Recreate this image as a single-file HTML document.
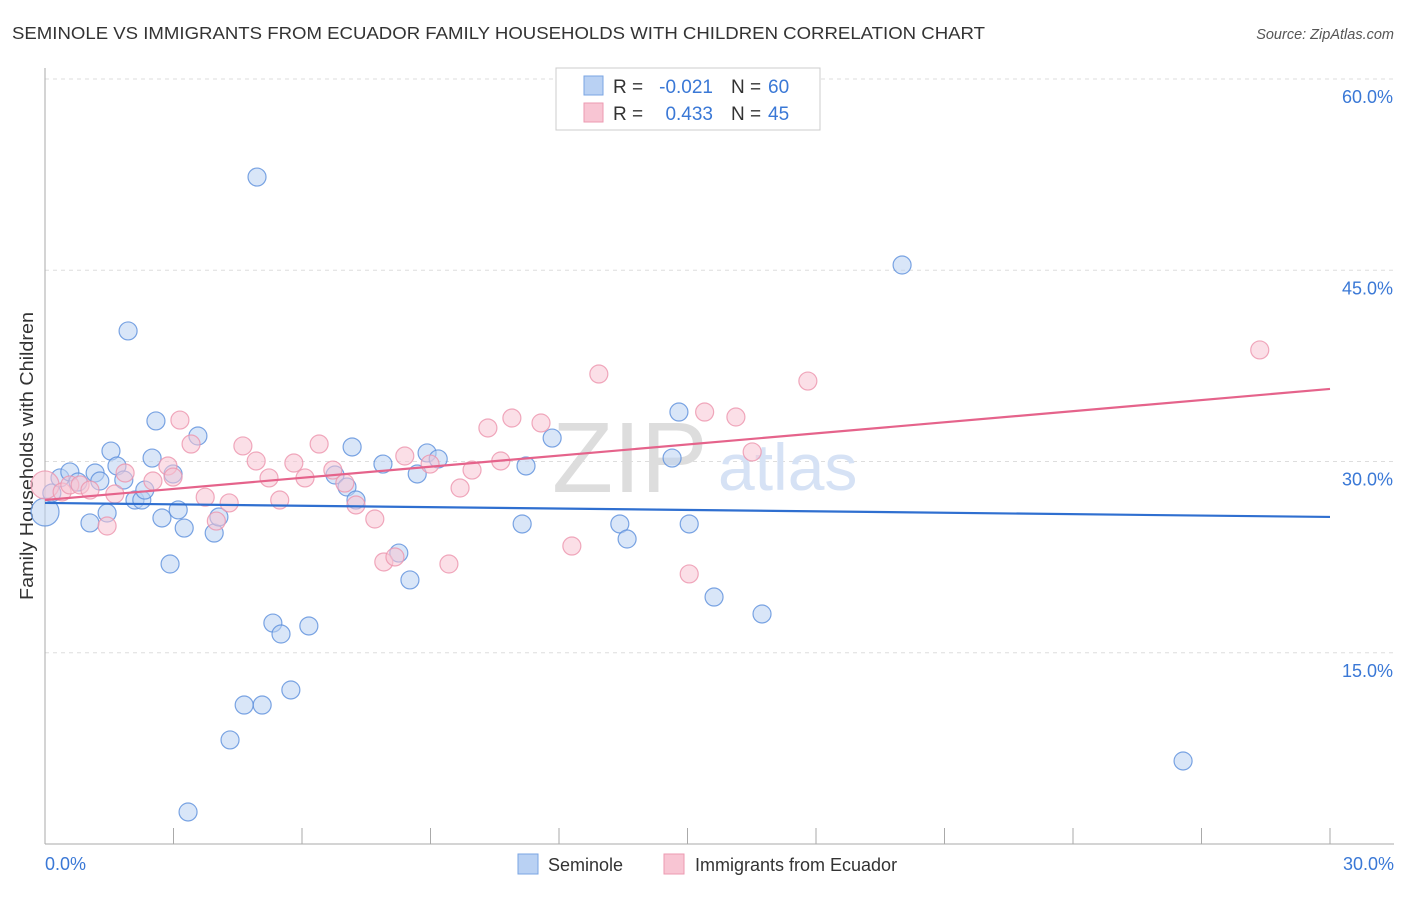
<!DOCTYPE html>
<html><head><meta charset="utf-8"><style>
body{margin:0;background:#fff;font-family:"Liberation Sans",sans-serif;}
svg text{font-family:"Liberation Sans",sans-serif;}
</style></head><body>
<svg id="chart" width="1406" height="892">
<text x="12" y="39" font-size="17.5" fill="#333" textLength="973" lengthAdjust="spacingAndGlyphs">SEMINOLE VS IMMIGRANTS FROM ECUADOR FAMILY HOUSEHOLDS WITH CHILDREN CORRELATION CHART</text>
<text x="1394" y="39" font-size="14.5" fill="#555" font-style="italic" text-anchor="end">Source: ZipAtlas.com</text>
<text x="33" y="456" font-size="18" fill="#333" text-anchor="middle" textLength="288" lengthAdjust="spacingAndGlyphs" transform="rotate(-90 33 456)">Family Households with Children</text>
<g id="grid"></g>
<text x="552" y="492" font-size="100" fill="#ddd" font-family="Liberation Serif">ZIP</text>
<text x="718" y="490" font-size="66" fill="#d6e2f5">atlas</text>
<g id="marks"></g>
<g>
<rect x="556" y="68" width="264" height="62" fill="#fff" stroke="#ccc"/>
<rect x="584" y="76" width="19" height="19" fill="#b9d1f3" stroke="#7aa5e3"/>
<rect x="584" y="103" width="19" height="19" fill="#f8c5d3" stroke="#ec9ab2"/>
<text x="613" y="93" font-size="19" fill="#333">R =</text>
<text x="713" y="93" font-size="19" fill="#3a78d6" text-anchor="end">-0.021</text>
<text x="731" y="93" font-size="19" fill="#333">N =</text>
<text x="768" y="93" font-size="19" fill="#3a78d6">60</text>
<text x="613" y="120" font-size="19" fill="#333">R =</text>
<text x="713" y="120" font-size="19" fill="#3a78d6" text-anchor="end">0.433</text>
<text x="731" y="120" font-size="19" fill="#333">N =</text>
<text x="768" y="120" font-size="19" fill="#3a78d6">45</text>
</g>
<g>
<rect x="518" y="854" width="20" height="20" fill="#b9d1f3" stroke="#7aa5e3"/>
<text x="548" y="871" font-size="18" fill="#333">Seminole</text>
<rect x="664" y="854" width="20" height="20" fill="#f8c5d3" stroke="#ec9ab2"/>
<text x="695" y="871" font-size="18" fill="#333">Immigrants from Ecuador</text>
</g>
</svg>
<script>
const yTicks=[15,30,45,60];
const yTickLabels=["15.0%","30.0%","45.0%","60.0%"];
const xTickLabels=["0.0%","30.0%"];
const blueX=[0,0.16,0.35,0.58,0.77,1.17,1.28,1.05,1.45,1.54,1.68,1.84,1.94,2.1,2.26,2.33,2.5,2.59,2.73,2.92,2.99,3.11,3.25,3.57,3.95,4.06,4.32,4.65,4.95,5.07,5.32,5.51,5.74,6.16,3.34,6.77,7.05,7.17,7.26,7.89,8.26,8.52,8.69,8.92,9.18,11.14,11.23,11.84,13.42,13.59,14.64,14.8,15.04,15.62,16.74,20.01,26.57];
const blueY=[26.04,27.53,28.71,29.18,28.39,29.1,28.47,25.18,25.96,30.82,29.65,28.55,40.24,26.98,26.98,27.76,30.27,33.18,25.57,21.96,29.02,26.2,24.78,32.0,24.39,25.65,8.16,10.9,52.31,10.9,17.33,16.47,12.08,17.1,2.51,28.94,28.0,31.14,26.98,29.8,22.82,20.71,29.02,30.67,30.2,25.1,29.65,31.84,25.1,23.92,30.27,33.88,25.1,19.37,18.04,45.41,6.51];
const pinkX=[0,0.4,0.58,0.82,1.05,1.45,1.63,1.87,2.52,2.87,2.99,3.15,3.41,3.74,4.0,4.3,4.62,4.93,5.23,5.48,5.81,6.07,6.4,6.72,7.0,7.26,7.7,7.91,8.17,8.4,8.99,9.43,9.69,9.97,10.34,10.64,10.9,11.58,12.3,12.93,15.4,15.04,16.13,16.51,17.81,28.36];
const pinkY=[28.16,27.61,28.16,28.16,27.76,24.94,27.45,29.1,28.47,29.65,28.78,33.25,31.37,27.2,25.33,26.75,31.22,30.04,28.71,26.98,29.88,28.71,31.37,29.33,28.31,26.59,25.49,22.12,22.51,30.43,29.8,21.96,27.92,29.33,32.63,30.04,33.41,33.02,23.37,36.86,33.88,21.18,33.49,30.75,36.31,38.75];
const trendX=[0,30];
const blueTrend=[26.75,25.65];
const pinkTrend=[26.98,35.69];
const NS="http://www.w3.org/2000/svg";
const sx=v=>45+v/30*1285;
const sy=v=>844-v*12.75;
function mk(t,a,p){const e=document.createElementNS(NS,t);for(const k in a)e.setAttribute(k,a[k]);p.appendChild(e);return e;}
const grid=document.getElementById('grid'),marks=document.getElementById('marks');
yTicks.forEach((t,i)=>{
 const l=mk('line',{x1:45,x2:1394,y1:sy(t),y2:sy(t),stroke:'#ddd','stroke-dasharray':'4,4'},grid);
 
 
 const tx=mk('text',{x:1393,y:sy(t)+24,'font-size':18,fill:'#3a78d6','text-anchor':'end'},grid);tx.textContent=yTickLabels[i];
 
 
});
mk('line',{x1:45,x2:45,y1:68,y2:844,stroke:'#aaa'},grid);
mk('line',{x1:45,x2:1394,y1:844,y2:844,stroke:'#aaa'},grid);
for(let i=0;i<=10;i++){const t=mk('line',{x1:sx(i*3),x2:sx(i*3),y1:828,y2:844,stroke:'#aaa'},grid);
 
 }
[[0,'start',45],[30,'end',1394]].forEach((d,i)=>{const t=mk('text',{x:d[2],y:870,'font-size':18,fill:'#3a78d6','text-anchor':d[1]},grid);t.textContent=xTickLabels[i];
 
 });
function pts(X,Y,fill,stroke,name){X.forEach((x,i)=>{const c=mk('circle',{cx:sx(x),cy:sy(Y[i]),r:(i==0?14:9),fill:fill,'fill-opacity':0.55,stroke:stroke,'stroke-width':1.2,'stroke-opacity':0.8},marks);
 
 });}
pts(blueX,blueY,'#b9d1f3','#5b8fdc','seminole-point');
pts(pinkX,pinkY,'#f8c5d3','#ec93ad','ecuador-point');
const bl=mk('line',{x1:sx(trendX[0]),x2:sx(trendX[1]),y1:sy(blueTrend[0]),y2:sy(blueTrend[1]),stroke:'#2f6fd0','stroke-width':2.2},marks);


const pl=mk('line',{x1:sx(trendX[0]),x2:sx(trendX[1]),y1:sy(pinkTrend[0]),y2:sy(pinkTrend[1]),stroke:'#e5638b','stroke-width':2.2},marks);


</script>
</body></html>
